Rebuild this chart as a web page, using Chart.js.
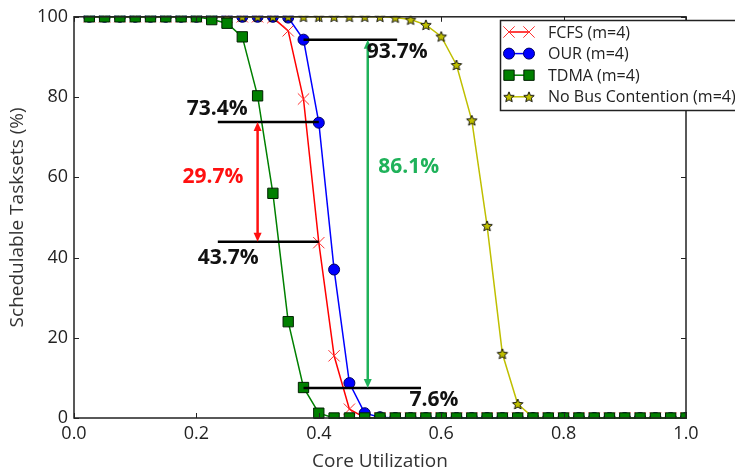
<!DOCTYPE html>
<html>
<head>
<meta charset="utf-8">
<script src="https://cdn.jsdelivr.net/npm/chart.js@4.4.1/dist/chart.umd.min.js"></script>
<style>
  html, body { margin: 0; padding: 0; background: #fff; }
  canvas { display: block; }
</style>
</head>
<body>
<canvas id="chart" width="735" height="476"></canvas>
<script>
const utilization = [0.025, 0.05, 0.075, 0.1, 0.125, 0.15, 0.175, 0.2, 0.225, 0.25,
                     0.275, 0.3, 0.325, 0.35, 0.375, 0.4, 0.425, 0.45, 0.475, 0.5,
                     0.525, 0.55, 0.575, 0.6, 0.625, 0.65, 0.675, 0.7, 0.725, 0.75,
                     0.775, 0.8, 0.825, 0.85, 0.875, 0.9, 0.925, 0.95, 0.975, 1.0];

const fcfs  = [100, 100, 100, 100, 100, 100, 100, 100, 100, 100,
               100, 100, 99.8, 96.5, 79.5, 43.7, 15.5, 2.2, 0.1, 0,
               0, 0, 0, 0, 0, 0, 0, 0, 0, 0,
               0, 0, 0, 0, 0, 0, 0, 0, 0, 0];
const our   = [100, 100, 100, 100, 100, 100, 100, 100, 100, 100,
               100, 100, 100, 99.8, 94.3, 73.6, 37, 8.7, 1.2, 0.2,
               0, 0, 0, 0, 0, 0, 0, 0, 0, 0,
               0, 0, 0, 0, 0, 0, 0, 0, 0, 0];
const tdma  = [100, 100, 100, 100, 100, 100, 100, 100, 99.3, 98.4,
               95, 80.3, 56, 24, 7.6, 1.2, 0, 0, 0, 0,
               0, 0, 0, 0, 0, 0, 0, 0, 0, 0,
               0, 0, 0, 0, 0, 0, 0, 0, 0, 0];
const noBus = [100, 100, 100, 100, 100, 100, 100, 100, 100, 100,
               100, 100, 100, 100, 100, 100, 100, 100, 100, 100,
               99.8, 99.3, 98, 95.1, 88, 74.2, 47.9, 16, 3.5, 0.2,
               0, 0, 0, 0, 0, 0, 0, 0, 0, 0];

const xTicks = [0, 0.2, 0.4, 0.6, 0.8, 1.0];
const yTicks = [0, 20, 40, 60, 80, 100];
const seriesNames = ["FCFS (m=4)", "OUR (m=4)", "TDMA (m=4)", "No Bus Contention (m=4)"];

// annotations, in data units
const levelLines = [
  { y: 94.3, from: 0.375, to: 0.528 },
  { y: 73.8, from: 0.235, to: 0.4 },
  { y: 43.9, from: 0.235, to: 0.4 },
  { y: 7.5, from: 0.375, to: 0.567 }
];
const gapArrows = [
  { x: 0.3, from: 73.8, to: 43.9, color: "#ff1010" },
  { x: 0.48, from: 94.3, to: 7.5, color: "#1fb25a" }
];
const gapLabels = [
  { text: "93.7%", x: 0.528, y: 91.3, color: "#111" },
  { text: "73.4%", x: 0.234, y: 77.0, color: "#111" },
  { text: "29.7%", x: 0.227, y: 60.0, color: "#ff1010" },
  { text: "43.7%", x: 0.252, y: 40.0, color: "#111" },
  { text: "86.1%", x: 0.547, y: 62.6, color: "#1fb25a" },
  { text: "7.6%",  x: 0.588, y: 4.4,  color: "#111" }
];

const FONT = "'Open Sans', 'DejaVu Sans', sans-serif";

function starImage(r, fill) {
  const c = document.createElement("canvas");
  const s = Math.ceil(r * 2 + 3);
  c.width = s; c.height = s;
  const g = c.getContext("2d");
  g.translate(s / 2, s / 2 + 0.5);
  g.beginPath();
  for (let i = 0; i < 10; i++) {
    const rr = i % 2 ? r * 0.45 : r;
    const a = -Math.PI / 2 + i * Math.PI / 5;
    g.lineTo(rr * Math.cos(a), rr * Math.sin(a));
  }
  g.closePath();
  g.fillStyle = fill; g.fill();
  g.strokeStyle = "#000"; g.lineWidth = 0.9; g.stroke();
  return c;
}
const star = starImage(5.5, "#bfbf00");

function series(label, values, color, style, radius, edge, order) {
  return {
    label: label,
    data: utilization.map((u, i) => ({ x: u, y: values[i] })),
    borderColor: color,
    backgroundColor: color,
    borderWidth: 1.5,
    pointStyle: style,
    pointRadius: radius,
    pointBorderColor: edge,
    pointBorderWidth: 1,
    pointBackgroundColor: color,
    showLine: true,
    tension: 0,
    clip: 1,
    order: order
  };
}

const datasets = [
  series(seriesNames[0], fcfs, "#ff0000", "crossRot", 8, "#ff3030", 3),
  series(seriesNames[1], our, "#0000ff", "circle", 5.5, "#000060", 2),
  series(seriesNames[2], tdma, "#008000", "rect", 7.3, "#002000", 0),
  series(seriesNames[3], noBus, "#bfbf00", star, 6, "#000", 1)
];

const framePlugin = {
  id: "frame",
  afterDraw(chart) {
    const ctx = chart.ctx;
    const a = chart.chartArea;
    const xs = chart.scales.x, ys = chart.scales.y;
    ctx.save();

    // axes box and inward ticks
    ctx.strokeStyle = "#222";
    ctx.lineWidth = 1.5;
    ctx.strokeRect(a.left, a.top, a.right - a.left, a.bottom - a.top);
    ctx.lineWidth = 1;
    ctx.beginPath();
    xTicks.forEach(v => {
      const px = Math.round(xs.getPixelForValue(v)) + 0.5;
      ctx.moveTo(px, a.bottom); ctx.lineTo(px, a.bottom - 5);
      ctx.moveTo(px, a.top); ctx.lineTo(px, a.top + 5);
    });
    yTicks.forEach(v => {
      const py = Math.round(ys.getPixelForValue(v)) + 0.5;
      ctx.moveTo(a.left, py); ctx.lineTo(a.left + 5, py);
      ctx.moveTo(a.right, py); ctx.lineTo(a.right - 5, py);
    });
    ctx.stroke();

    // level lines
    ctx.strokeStyle = "#000";
    ctx.lineWidth = 2.5;
    levelLines.forEach(l => {
      const py = ys.getPixelForValue(l.y);
      ctx.beginPath();
      ctx.moveTo(xs.getPixelForValue(l.from), py);
      ctx.lineTo(xs.getPixelForValue(l.to), py);
      ctx.stroke();
    });

    // double arrows
    gapArrows.forEach(g => {
      const px = xs.getPixelForValue(g.x);
      const y1 = ys.getPixelForValue(g.from), y2 = ys.getPixelForValue(g.to);
      const head = 9, half = 4;
      ctx.strokeStyle = g.color; ctx.fillStyle = g.color;
      ctx.lineWidth = 2.5;
      ctx.beginPath();
      ctx.moveTo(px, y1 + head - 1); ctx.lineTo(px, y2 - head + 1);
      ctx.stroke();
      ctx.beginPath();
      ctx.moveTo(px, y1); ctx.lineTo(px - half, y1 + head); ctx.lineTo(px + half, y1 + head);
      ctx.closePath(); ctx.fill();
      ctx.beginPath();
      ctx.moveTo(px, y2); ctx.lineTo(px - half, y2 - head); ctx.lineTo(px + half, y2 - head);
      ctx.closePath(); ctx.fill();
    });

    // percentage labels
    ctx.font = "bold 21px " + FONT;
    ctx.textAlign = "center";
    ctx.textBaseline = "middle";
    gapLabels.forEach(t => {
      ctx.fillStyle = t.color;
      ctx.fillText(t.text, xs.getPixelForValue(t.x), ys.getPixelForValue(t.y));
    });

    // legend box
    const bx = 500.5, by = 20.5, bw = 260, bh = 90;
    ctx.fillStyle = "#fff";
    ctx.fillRect(bx, by, bw, bh);
    ctx.strokeStyle = "#222";
    ctx.lineWidth = 1.5;
    ctx.strokeRect(bx, by, bw, bh);
    ctx.font = "16px " + FONT;
    ctx.textAlign = "left";
    datasets.forEach((d, i) => {
      const cy = 32 + i * 21.6;
      ctx.strokeStyle = d.borderColor;
      ctx.lineWidth = 1.5;
      ctx.beginPath();
      ctx.moveTo(508, cy); ctx.lineTo(530, cy);
      ctx.stroke();
      [509, 529].forEach(mx => {
        ctx.fillStyle = d.pointBackgroundColor;
        ctx.strokeStyle = d.pointBorderColor;
        ctx.lineWidth = d.pointBorderWidth;
        Chart.helpers.drawPoint(ctx, {
          pointStyle: d.pointStyle, radius: d.pointRadius, rotation: 0,
          borderWidth: d.pointBorderWidth
        }, mx, cy);
      });
      ctx.fillStyle = "#222";
      ctx.fillText(d.label, 548, cy + 1);
    });
    ctx.restore();
  }
};

new Chart(document.getElementById("chart"), {
  type: "scatter",
  data: { datasets: datasets },
  options: {
    responsive: false,
    animation: false,
    events: [],
    layout: { padding: { top: 13, right: 49, left: 0, bottom: 0 } },
    plugins: { legend: { display: false }, tooltip: { enabled: false } },
    scales: {
      x: {
        type: "linear", min: 0, max: 1,
        afterBuildTicks: s => { s.ticks = xTicks.map(v => ({ value: v })); },
        afterFit: s => { s.height = 58; },
        grid: { display: false, drawTicks: false },
        border: { display: false },
        ticks: {
          padding: 5, color: "#222", font: { family: FONT, size: 18 },
          callback: v => v.toFixed(1)
        },
        title: {
          display: true, text: "Core Utilization", color: "#333",
          font: { family: FONT, size: 19 }, padding: { top: 0, bottom: 3 }
        }
      },
      y: {
        type: "linear", min: 0, max: 100,
        afterBuildTicks: s => { s.ticks = yTicks.map(v => ({ value: v })); },
        afterFit: s => { s.width = 74; },
        grid: { display: false, drawTicks: false },
        border: { display: false },
        ticks: {
          padding: 6, color: "#222", font: { family: FONT, size: 18 },
          callback: v => String(v)
        },
        title: {
          display: true, text: "Schedulable Tasksets (%)", color: "#333",
          font: { family: FONT, size: 19 }, padding: { top: 6, bottom: 0 }
        }
      }
    }
  },
  plugins: [framePlugin]
});
</script>
</body>
</html>
